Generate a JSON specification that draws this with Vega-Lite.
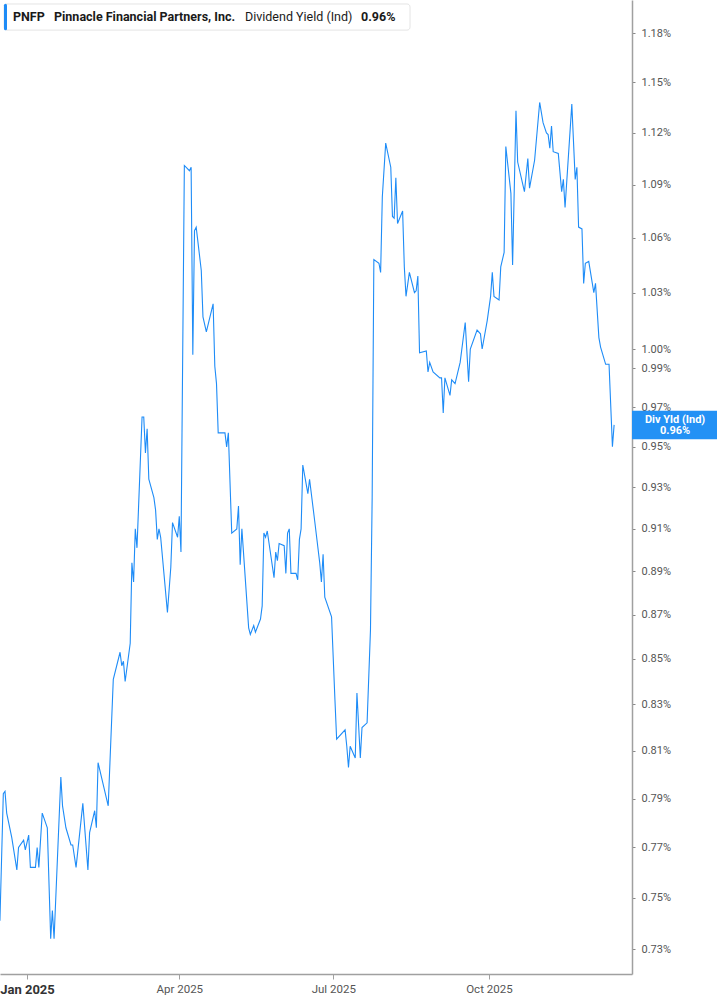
{
  "$schema": "https://vega.github.io/schema/vega-lite/v6.json",
  "width": 632,
  "height": 974,
  "autosize": {"type": "none"},
  "padding": {"left": 0, "top": 0, "right": 85, "bottom": 31},
  "background": "white",
  "config": {
    "view": {"stroke": null},
    "font": "Roboto",
    "text": {"font": "Roboto"}
  },
  "layer": [
    {
      "data": {
        "values": [
          {"d": "2024-12-16", "v": 0.741}, {"d": "2024-12-18", "v": 0.792}, {"d": "2024-12-19", "v": 0.793},
          {"d": "2024-12-20", "v": 0.784}, {"d": "2024-12-23", "v": 0.774}, {"d": "2024-12-26", "v": 0.761},
          {"d": "2024-12-27", "v": 0.770}, {"d": "2024-12-30", "v": 0.773}, {"d": "2024-12-31", "v": 0.769},
          {"d": "2025-01-02", "v": 0.775}, {"d": "2025-01-03", "v": 0.762}, {"d": "2025-01-06", "v": 0.762},
          {"d": "2025-01-07", "v": 0.770}, {"d": "2025-01-08", "v": 0.762}, {"d": "2025-01-10", "v": 0.784},
          {"d": "2025-01-13", "v": 0.778}, {"d": "2025-01-15", "v": 0.734}, {"d": "2025-01-16", "v": 0.745},
          {"d": "2025-01-17", "v": 0.734}, {"d": "2025-01-21", "v": 0.799}, {"d": "2025-01-22", "v": 0.787},
          {"d": "2025-01-24", "v": 0.778}, {"d": "2025-01-27", "v": 0.771}, {"d": "2025-01-28", "v": 0.771},
          {"d": "2025-01-30", "v": 0.762}, {"d": "2025-02-03", "v": 0.788}, {"d": "2025-02-06", "v": 0.761},
          {"d": "2025-02-07", "v": 0.776}, {"d": "2025-02-10", "v": 0.785}, {"d": "2025-02-11", "v": 0.778},
          {"d": "2025-02-12", "v": 0.805}, {"d": "2025-02-18", "v": 0.787}, {"d": "2025-02-21", "v": 0.841},
          {"d": "2025-02-25", "v": 0.853}, {"d": "2025-02-26", "v": 0.847}, {"d": "2025-02-27", "v": 0.849},
          {"d": "2025-02-28", "v": 0.840}, {"d": "2025-03-03", "v": 0.857}, {"d": "2025-03-04", "v": 0.894},
          {"d": "2025-03-05", "v": 0.885}, {"d": "2025-03-06", "v": 0.910}, {"d": "2025-03-07", "v": 0.901},
          {"d": "2025-03-10", "v": 0.965}, {"d": "2025-03-11", "v": 0.965}, {"d": "2025-03-12", "v": 0.947},
          {"d": "2025-03-13", "v": 0.959}, {"d": "2025-03-14", "v": 0.934}, {"d": "2025-03-17", "v": 0.925},
          {"d": "2025-03-18", "v": 0.919}, {"d": "2025-03-19", "v": 0.905}, {"d": "2025-03-20", "v": 0.910},
          {"d": "2025-03-21", "v": 0.906}, {"d": "2025-03-25", "v": 0.871}, {"d": "2025-03-27", "v": 0.892},
          {"d": "2025-03-28", "v": 0.913}, {"d": "2025-03-31", "v": 0.906}, {"d": "2025-04-01", "v": 0.916},
          {"d": "2025-04-02", "v": 0.899}, {"d": "2025-04-04", "v": 1.101}, {"d": "2025-04-07", "v": 1.098},
          {"d": "2025-04-08", "v": 1.100}, {"d": "2025-04-09", "v": 0.997}, {"d": "2025-04-10", "v": 1.064},
          {"d": "2025-04-11", "v": 1.066}, {"d": "2025-04-14", "v": 1.042}, {"d": "2025-04-15", "v": 1.017},
          {"d": "2025-04-17", "v": 1.009}, {"d": "2025-04-21", "v": 1.024}, {"d": "2025-04-22", "v": 0.991},
          {"d": "2025-04-23", "v": 0.982}, {"d": "2025-04-24", "v": 0.957}, {"d": "2025-04-25", "v": 0.957},
          {"d": "2025-04-28", "v": 0.957}, {"d": "2025-04-29", "v": 0.950}, {"d": "2025-04-30", "v": 0.957},
          {"d": "2025-05-02", "v": 0.908}, {"d": "2025-05-05", "v": 0.910}, {"d": "2025-05-06", "v": 0.921},
          {"d": "2025-05-07", "v": 0.893}, {"d": "2025-05-08", "v": 0.910}, {"d": "2025-05-12", "v": 0.864},
          {"d": "2025-05-13", "v": 0.861}, {"d": "2025-05-15", "v": 0.865}, {"d": "2025-05-16", "v": 0.862},
          {"d": "2025-05-19", "v": 0.868}, {"d": "2025-05-20", "v": 0.874}, {"d": "2025-05-21", "v": 0.908},
          {"d": "2025-05-22", "v": 0.906}, {"d": "2025-05-23", "v": 0.909}, {"d": "2025-05-27", "v": 0.887},
          {"d": "2025-05-28", "v": 0.899}, {"d": "2025-05-29", "v": 0.895}, {"d": "2025-05-30", "v": 0.903},
          {"d": "2025-06-02", "v": 0.902}, {"d": "2025-06-03", "v": 0.889}, {"d": "2025-06-04", "v": 0.908},
          {"d": "2025-06-05", "v": 0.910}, {"d": "2025-06-06", "v": 0.889}, {"d": "2025-06-09", "v": 0.889},
          {"d": "2025-06-10", "v": 0.886}, {"d": "2025-06-11", "v": 0.905}, {"d": "2025-06-12", "v": 0.910},
          {"d": "2025-06-13", "v": 0.941}, {"d": "2025-06-16", "v": 0.927}, {"d": "2025-06-17", "v": 0.934},
          {"d": "2025-06-20", "v": 0.914}, {"d": "2025-06-23", "v": 0.894}, {"d": "2025-06-24", "v": 0.885},
          {"d": "2025-06-25", "v": 0.898}, {"d": "2025-06-26", "v": 0.878}, {"d": "2025-06-30", "v": 0.869},
          {"d": "2025-07-02", "v": 0.832}, {"d": "2025-07-03", "v": 0.815}, {"d": "2025-07-08", "v": 0.819},
          {"d": "2025-07-09", "v": 0.812}, {"d": "2025-07-10", "v": 0.803}, {"d": "2025-07-11", "v": 0.812},
          {"d": "2025-07-14", "v": 0.807}, {"d": "2025-07-15", "v": 0.835}, {"d": "2025-07-17", "v": 0.807},
          {"d": "2025-07-18", "v": 0.820}, {"d": "2025-07-21", "v": 0.822}, {"d": "2025-07-23", "v": 0.863},
          {"d": "2025-07-24", "v": 0.925}, {"d": "2025-07-25", "v": 1.048}, {"d": "2025-07-28", "v": 1.046},
          {"d": "2025-07-29", "v": 1.041}, {"d": "2025-07-30", "v": 1.083}, {"d": "2025-08-01", "v": 1.114},
          {"d": "2025-08-04", "v": 1.100}, {"d": "2025-08-05", "v": 1.072}, {"d": "2025-08-06", "v": 1.071},
          {"d": "2025-08-07", "v": 1.094}, {"d": "2025-08-08", "v": 1.068}, {"d": "2025-08-11", "v": 1.075},
          {"d": "2025-08-12", "v": 1.044}, {"d": "2025-08-13", "v": 1.028}, {"d": "2025-08-15", "v": 1.041},
          {"d": "2025-08-18", "v": 1.030}, {"d": "2025-08-19", "v": 1.031}, {"d": "2025-08-20", "v": 1.039},
          {"d": "2025-08-21", "v": 0.998}, {"d": "2025-08-25", "v": 0.999}, {"d": "2025-08-26", "v": 0.988},
          {"d": "2025-08-27", "v": 0.993}, {"d": "2025-08-29", "v": 0.988}, {"d": "2025-09-02", "v": 0.985},
          {"d": "2025-09-03", "v": 0.985}, {"d": "2025-09-04", "v": 0.967}, {"d": "2025-09-05", "v": 0.985},
          {"d": "2025-09-08", "v": 0.976}, {"d": "2025-09-09", "v": 0.984}, {"d": "2025-09-11", "v": 0.982},
          {"d": "2025-09-14", "v": 0.993}, {"d": "2025-09-17", "v": 1.014}, {"d": "2025-09-19", "v": 0.983},
          {"d": "2025-09-20", "v": 1.000}, {"d": "2025-09-24", "v": 1.010}, {"d": "2025-09-26", "v": 1.008},
          {"d": "2025-09-27", "v": 1.000}, {"d": "2025-09-30", "v": 1.015}, {"d": "2025-10-02", "v": 1.028},
          {"d": "2025-10-03", "v": 1.041}, {"d": "2025-10-04", "v": 1.028}, {"d": "2025-10-07", "v": 1.026},
          {"d": "2025-10-08", "v": 1.044}, {"d": "2025-10-10", "v": 1.052}, {"d": "2025-10-11", "v": 1.112},
          {"d": "2025-10-14", "v": 1.085}, {"d": "2025-10-15", "v": 1.045}, {"d": "2025-10-17", "v": 1.133},
          {"d": "2025-10-18", "v": 1.103}, {"d": "2025-10-22", "v": 1.086}, {"d": "2025-10-24", "v": 1.105},
          {"d": "2025-10-25", "v": 1.088}, {"d": "2025-10-28", "v": 1.104}, {"d": "2025-10-31", "v": 1.138},
          {"d": "2025-11-02", "v": 1.126}, {"d": "2025-11-04", "v": 1.120}, {"d": "2025-11-05", "v": 1.119},
          {"d": "2025-11-06", "v": 1.111}, {"d": "2025-11-07", "v": 1.124}, {"d": "2025-11-08", "v": 1.109},
          {"d": "2025-11-11", "v": 1.108}, {"d": "2025-11-13", "v": 1.086}, {"d": "2025-11-14", "v": 1.093},
          {"d": "2025-11-15", "v": 1.077}, {"d": "2025-11-19", "v": 1.137}, {"d": "2025-11-21", "v": 1.093},
          {"d": "2025-11-22", "v": 1.100}, {"d": "2025-11-23", "v": 1.066}, {"d": "2025-11-25", "v": 1.065},
          {"d": "2025-11-26", "v": 1.035}, {"d": "2025-11-27", "v": 1.046}, {"d": "2025-11-29", "v": 1.047},
          {"d": "2025-12-02", "v": 1.030}, {"d": "2025-12-03", "v": 1.035}, {"d": "2025-12-05", "v": 1.006},
          {"d": "2025-12-06", "v": 1.001}, {"d": "2025-12-09", "v": 0.992}, {"d": "2025-12-11", "v": 0.992},
          {"d": "2025-12-13", "v": 0.950}, {"d": "2025-12-14", "v": 0.961}
        ]
      },
      "mark": {"type": "line", "color": "#1e8cf7", "strokeWidth": 1.1, "interpolate": "linear"},
      "encoding": {
        "x": {
          "field": "d",
          "type": "temporal",
          "scale": {
            "type": "utc",
            "domain": [
              {"year": 2024, "month": 12, "date": 16, "hours": 1, "utc": true},
              {"year": 2025, "month": 12, "date": 24, "hours": 13, "minutes": 40, "utc": true}
            ]
          },
          "axis": {
            "title": null,
            "grid": false,
            "values": [
              {"year": 2025, "month": 1, "date": 1, "utc": true},
              {"year": 2025, "month": 4, "date": 1, "utc": true},
              {"year": 2025, "month": 7, "date": 1, "utc": true},
              {"year": 2025, "month": 10, "date": 1, "utc": true}
            ],
            "labelExpr": "utcFormat(datum.value, '%b %Y')",
            "labelFont": "Roboto",
            "labelFontSize": {"condition": {"test": "utcmonth(datum.value) === 0", "value": 13}, "value": 11.5},
            "labelFontWeight": {"condition": {"test": "utcmonth(datum.value) === 0", "value": "bold"}, "value": "normal"},
            "labelColor": {"condition": {"test": "utcmonth(datum.value) === 0", "value": "#333333"}, "value": "#555555"},
            "labelFlush": false,
            "labelOverlap": false,
            "labelPadding": 4,
            "domainColor": "#a0a0a0",
            "domainWidth": 1.5,
            "tickColor": "#a0a0a0",
            "tickSize": 5
          }
        },
        "y": {
          "field": "v",
          "type": "quantitative",
          "scale": {"type": "log", "domain": [0.72058, 1.2008], "nice": false, "zero": false},
          "axis": {
            "orient": "right",
            "title": null,
            "grid": false,
            "values": [0.73, 0.75, 0.77, 0.79, 0.81, 0.83, 0.85, 0.87, 0.89, 0.91, 0.93, 0.95, 0.97, 0.99, 1.0, 1.03, 1.06, 1.09, 1.12, 1.15, 1.18],
            "labelExpr": "format(datum.value, '.2f') + '%'",
            "labelFont": "Roboto",
            "labelFontSize": 11,
            "labelColor": "#555555",
            "labelPadding": 6,
            "labelOverlap": false,
            "labelBound": false,
            "domainColor": "#a0a0a0",
            "domainWidth": 1.5,
            "tickColor": "#888888",
            "tickSize": 3
          }
        }
      }
    },
    {
      "data": {"values": [{}]},
      "mark": {"type": "rect", "fill": "white", "stroke": "#e4e4e4", "strokeWidth": 1, "cornerRadius": 3},
      "encoding": {
        "x": {"datum": {"year": 2024, "month": 12, "date": 18, "hours": 10, "utc": true}, "type": "temporal"},
        "x2": {"datum": {"year": 2025, "month": 8, "date": 15, "hours": 9, "utc": true}},
        "y": {"datum": 1.1983, "type": "quantitative"},
        "y2": {"datum": 1.1820}
      }
    },
    {
      "data": {"values": [{}]},
      "mark": {"type": "rule", "color": "#1e8cf7", "strokeWidth": 3, "strokeCap": "round"},
      "encoding": {
        "x": {"datum": {"year": 2024, "month": 12, "date": 19, "hours": 7, "utc": true}, "type": "temporal"},
        "y": {"datum": 1.1975, "type": "quantitative"},
        "y2": {"datum": 1.1828}
      }
    },
    {
      "data": {"values": [{"t": "PNFP"}]},
      "mark": {"type": "text", "align": "left", "baseline": "middle", "font": "Roboto", "fontSize": 12.5, "fontWeight": "bold", "color": "#1a1a1a"},
      "encoding": {
        "x": {"datum": {"year": 2024, "month": 12, "date": 23, "hours": 17, "utc": true}, "type": "temporal"},
        "y": {"datum": 1.1901, "type": "quantitative"},
        "text": {"field": "t"}
      }
    },
    {
      "data": {"values": [{"t": "Pinnacle Financial Partners, Inc."}]},
      "mark": {"type": "text", "align": "left", "baseline": "middle", "font": "Roboto", "fontSize": 12.5, "fontWeight": "bold", "color": "#1a1a1a"},
      "encoding": {
        "x": {"datum": {"year": 2025, "month": 1, "date": 16, "hours": 23, "utc": true}, "type": "temporal"},
        "y": {"datum": 1.1901, "type": "quantitative"},
        "text": {"field": "t"}
      }
    },
    {
      "data": {"values": [{"t": "Dividend Yield (Ind)"}]},
      "mark": {"type": "text", "align": "left", "baseline": "middle", "font": "Roboto", "fontSize": 12.5, "fontWeight": "normal", "color": "#1a1a1a"},
      "encoding": {
        "x": {"datum": {"year": 2025, "month": 5, "date": 9, "hours": 20, "utc": true}, "type": "temporal"},
        "y": {"datum": 1.1901, "type": "quantitative"},
        "text": {"field": "t"}
      }
    },
    {
      "data": {"values": [{"t": "0.96%"}]},
      "mark": {"type": "text", "align": "left", "baseline": "middle", "font": "Roboto", "fontSize": 12.5, "fontWeight": "bold", "color": "#1a1a1a"},
      "encoding": {
        "x": {"datum": {"year": 2025, "month": 7, "date": 17, "hours": 10, "utc": true}, "type": "temporal"},
        "y": {"datum": 1.1901, "type": "quantitative"},
        "text": {"field": "t"}
      }
    },
    {
      "data": {"values": [{}]},
      "mark": {"type": "rect", "fill": "#2391f5"},
      "encoding": {
        "x": {"datum": {"year": 2025, "month": 12, "date": 24, "hours": 13, "minutes": 40, "utc": true}, "type": "temporal"},
        "x2": {"datum": {"year": 2026, "month": 2, "date": 14, "utc": true}},
        "y": {"datum": 0.9682, "type": "quantitative"},
        "y2": {"datum": 0.9538}
      }
    },
    {
      "data": {"values": [{"t": "Div Yld (Ind)"}]},
      "mark": {"type": "text", "align": "center", "baseline": "middle", "font": "Roboto", "fontSize": 11, "fontWeight": "bold", "color": "white"},
      "encoding": {
        "x": {"datum": {"year": 2026, "month": 1, "date": 19, "utc": true}, "type": "temporal"},
        "y": {"datum": 0.9633, "type": "quantitative"},
        "text": {"field": "t"}
      }
    },
    {
      "data": {"values": [{"t": "0.96%"}]},
      "mark": {"type": "text", "align": "center", "baseline": "middle", "font": "Roboto", "fontSize": 11, "fontWeight": "bold", "color": "white"},
      "encoding": {
        "x": {"datum": {"year": 2026, "month": 1, "date": 19, "utc": true}, "type": "temporal"},
        "y": {"datum": 0.9577, "type": "quantitative"},
        "text": {"field": "t"}
      }
    }
  ]
}
